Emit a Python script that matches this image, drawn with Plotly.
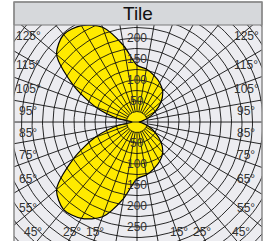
import numpy as np
import plotly.graph_objects as go

# ---- data (angle clockwise from top, degrees -> intensity) ----
angles = [0, 10, 20, 30, 40, 50, 60, 70, 80, 90,
          100, 110, 120, 130, 140, 150, 160, 170, 180,
          190, 200, 210, 220, 230, 240, 250, 260, 270,
          280, 290, 300, 310, 320, 330, 340, 350]
values = [135, 128, 118, 108, 95, 75, 50, 28, 12, 5,
          12, 28, 50, 75, 95, 108, 118, 128, 135,
          185, 240, 265, 272, 250, 175, 105, 45, 12,
          45, 105, 175, 250, 272, 265, 240, 185]
radial_ticks = [50, 100, 150, 200, 250]
angular_ticks = [15, 25, 45, 55, 65, 75, 85, 95, 105, 115, 125]
title_text = "Tile"

XR = [-292.9, 297.6]
YR = [-283.3, 231.0]
PX = (XR[1] - XR[0]) / 248.0

fig = go.Figure()

# filled distribution curve
th = np.radians(np.array(angles + [angles[0]], dtype=float))
rv = np.array(values + [values[0]], dtype=float)
fig.add_trace(go.Scatter(x=rv * np.sin(th), y=rv * np.cos(th), mode="lines",
                         line=dict(color="black", width=1.2, shape="spline", smoothing=0.8),
                         fill="toself", fillcolor="#FFEA00", hoverinfo="skip"))

# grid: circles and spokes
gx, gy = [], []
t = np.radians(np.linspace(0, 360, 181))
for r in range(25, 425, 25):
    gx += list(r * np.sin(t)) + [None]
    gy += list(r * np.cos(t)) + [None]
for a in range(0, 360, 10):
    ar = np.radians(a)
    r0 = 0 if a in (90, 270) else 25
    gx += [r0 * np.sin(ar), 420 * np.sin(ar), None]
    gy += [r0 * np.cos(ar), 420 * np.cos(ar), None]
fig.add_trace(go.Scatter(x=gx, y=gy, mode="lines", line=dict(color="#111", width=0.9),
                         hoverinfo="skip"))

font = dict(family="Liberation Sans, Arial, sans-serif", size=12, color="#333")
ann = []
for r in radial_ticks:
    ann.append(dict(x=0, y=-r, text=str(r), showarrow=False, font=font, xref="x", yref="y"))
    if r < 230:
        ann.append(dict(x=0, y=r, text=str(r), showarrow=False, font=font, xref="x", yref="y"))

# angular labels: placed where the direction meets the box border
half_w = -XR[0]          # left border distance (mirrored for right side)
bottom = -YR[0]
for a in angular_ticks:
    ar = np.radians(a)
    dx, dy = np.sin(ar), -np.cos(ar)
    t_side = half_w / dx
    t_bot = bottom / -dy if dy < 0 else 1e9
    for side in (-1, 1):
        if t_side <= t_bot:
            ann.append(dict(x=side * (half_w - 14 * PX), y=t_side * dy, text=f"{a}°",
                            showarrow=False, font=font, xref="x", yref="y",
                            xanchor="center", yanchor="middle"))
        else:
            xi = t_bot * dx
            xi = min(xi, half_w - 29 * PX)
            ann.append(dict(x=side * xi, y=YR[0] + 1 * PX, text=f"{a}°",
                            showarrow=False, font=font, xref="x", yref="y",
                            xanchor="right" if side < 0 else "left", yanchor="bottom",
                            borderpad=0))

ann.append(dict(x=0.5, y=1.053, xref="paper", yref="paper", xanchor="center", yanchor="middle",
                text=title_text, showarrow=False,
                font=dict(family="Liberation Sans, Arial, sans-serif", size=19, color="#111")))

shapes = [
    dict(type="rect", xref="paper", yref="paper", x0=0, x1=1, y0=1.0, y1=1.1065,
         fillcolor="#D6D8DB", line=dict(color="#7a7a7a", width=1), layer="above"),
    dict(type="rect", xref="paper", yref="paper", x0=0, x1=1, y0=-0.02, y1=1.1065,
         fillcolor="rgba(0,0,0,0)", line=dict(color="#8a8a8a", width=1.5), layer="above"),
]

fig.update_layout(
    width=270, height=241,
    margin=dict(l=14, r=8, t=25, b=0),
    paper_bgcolor="white", plot_bgcolor="#ECECF0",
    showlegend=False,
    xaxis=dict(range=XR, visible=False, showgrid=False, zeroline=False, fixedrange=True),
    yaxis=dict(range=YR, visible=False, showgrid=False, zeroline=False, fixedrange=True),
    annotations=ann, shapes=shapes,
)
fig.write_html("out.html", config={"displayModeBar": False},
               post_script="document.body.style.margin='0';document.body.style.overflow='hidden';")
